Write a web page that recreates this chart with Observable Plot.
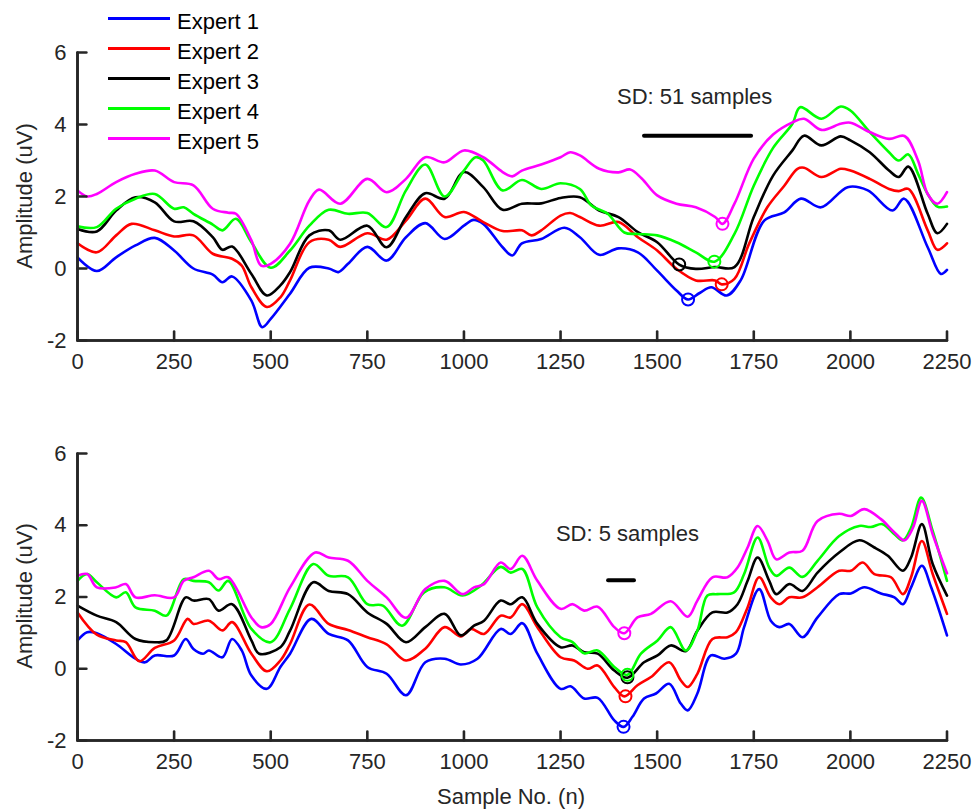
<!DOCTYPE html>
<html><head><meta charset="utf-8">
<script src="https://cdn.jsdelivr.net/npm/d3@7"></script>
<script src="https://cdn.jsdelivr.net/npm/@observablehq/plot@0.6"></script>
<style>
body{margin:0;background:#fff;font-family:"Liberation Sans",Arial,sans-serif;}
#wrap{position:relative;width:979px;height:809px;}
#legend{position:absolute;left:0;top:0;pointer-events:none}
.ylab{position:absolute;left:25px;font-size:22px;color:#262626;white-space:nowrap;transform:translate(-50%,-50%) rotate(-90deg);}
.xlab{position:absolute;left:511px;top:797px;font-size:22px;color:#262626;white-space:nowrap;transform:translate(-50%,-50%);}
</style></head><body>
<div id="wrap"><div id="top"></div><div id="bot"></div><svg id="legend" width="300" height="160"></svg></div>
<script>
const experts = ["Expert 1", "Expert 2", "Expert 3", "Expert 4", "Expert 5"];
const colors = ["#0000ff", "#ff0000", "#000000", "#00ff00", "#ff00ff"];
const xTicks = [0, 250, 500, 750, 1000, 1250, 1500, 1750, 2000, 2250];
const yTicks = [-2, 0, 2, 4, 6];
const xLabel = "Sample No. (n)";
const yLabel = "Amplitude (uV)";

// ---- Top panel (SD: 51 samples) ----
const top1 = [[0,0.31],[50,-0.07],[100,0.31],[150,0.64],[200,0.85],[250,0.5],[300,0],[350,-0.17],[375,-0.38],[400,-0.22],[450,-0.89],[478,-1.63],[500,-1.4],[550,-0.7],[600,0.02],[650,0],[675,-0.1],[700,0.13],[750,0.6],[800,0.22],[850,0.87],[900,1.26],[950,0.82],[1000,1.19],[1025,1.35],[1050,1.24],[1100,0.59],[1125,0.36],[1150,0.7],[1200,0.82],[1260,1.13],[1300,0.87],[1350,0.38],[1400,0.56],[1450,0.45],[1500,-0.06],[1550,-0.61],[1580,-0.86],[1610,-0.68],[1640,-0.52],[1680,-0.75],[1716,-0.33],[1777,1.33],[1829,1.56],[1872,1.94],[1924,1.7],[1993,2.26],[2045,2.17],[2109,1.61],[2139,1.94],[2200,0.59],[2234,-0.15],[2250,-0.04]];
const top2 = [[0,0.7],[50,0.45],[100,0.92],[140,1.24],[200,1.06],[250,0.89],[300,0.92],[350,0.41],[400,0.27],[425,0.08],[450,-0.52],[490,-1.07],[525,-0.8],[550,-0.33],[600,0.73],[650,0.8],[680,0.6],[750,0.98],[800,0.8],[850,1.33],[900,1.94],[950,1.43],[1000,1.57],[1050,1.29],[1100,1.04],[1150,1.06],[1175,0.92],[1200,1.06],[1250,1.47],[1275,1.54],[1300,1.43],[1350,1.19],[1400,1.29],[1450,0.87],[1500,0.5],[1550,-0.01],[1600,-0.33],[1650,-0.33],[1667,-0.44],[1700,-0.29],[1738,0.69],[1785,1.7],[1829,2.3],[1863,2.77],[1880,2.8],[1925,2.54],[1975,2.77],[2000,2.72],[2050,2.49],[2100,2.21],[2125,2.15],[2150,2.21],[2200,1.06],[2225,0.52],[2250,0.7]];
const top3 = [[0,1.1],[50,1.03],[100,1.61],[150,1.98],[200,1.84],[250,1.31],[300,1.31],[350,0.87],[375,0.52],[400,0.61],[450,-0.15],[490,-0.75],[525,-0.47],[550,-0.1],[600,0.92],[650,1.06],[680,0.8],[750,1.19],[800,0.59],[850,1.43],[900,2.09],[950,1.94],[1000,2.68],[1050,2.26],[1100,1.63],[1150,1.8],[1200,1.81],[1250,1.96],[1300,1.98],[1350,1.61],[1400,1.43],[1450,1.01],[1500,0.73],[1557,0.11],[1600,-0.01],[1650,0.04],[1700,0.04],[1750,1.43],[1800,2.58],[1850,3.28],[1880,3.69],[1925,3.42],[1975,3.67],[2000,3.56],[2050,3.23],[2100,2.72],[2125,2.54],[2150,2.83],[2200,1.52],[2225,0.98],[2250,1.24]];
const top4 = [[0,1.17],[50,1.15],[100,1.66],[150,1.94],[200,2.07],[250,1.66],[275,1.7],[300,1.52],[350,1.22],[375,1.06],[410,1.38],[450,0.73],[500,0.02],[550,0.5],[600,1.19],[650,1.63],[700,1.52],[750,1.54],[800,1.15],[850,2.17],[900,2.89],[950,2.0],[1000,2.72],[1030,3.09],[1050,3.0],[1100,2.17],[1150,2.46],[1200,2.21],[1250,2.37],[1300,2.21],[1330,1.75],[1372,1.52],[1415,1.0],[1450,0.96],[1500,0.92],[1550,0.73],[1600,0.45],[1648,0.19],[1700,0.96],[1750,2.3],[1800,3.35],[1850,4.02],[1870,4.48],[1925,4.16],[1975,4.5],[2000,4.39],[2050,3.79],[2100,3.23],[2125,3.0],[2150,3.17],[2175,2.63],[2200,2.07],[2225,1.72],[2250,1.72]];
const top5 = [[0,2.17],[25,2.0],[50,2.07],[100,2.4],[150,2.63],[200,2.72],[250,2.4],[300,2.31],[350,1.66],[390,1.55],[410,1.52],[450,0.78],[475,0.08],[500,0.13],[550,0.69],[600,1.89],[625,2.19],[680,1.8],[750,2.49],[800,2.12],[850,2.49],[900,3.09],[950,2.95],[1000,3.28],[1050,3.09],[1100,2.68],[1125,2.56],[1150,2.72],[1200,2.89],[1250,3.09],[1275,3.23],[1300,3.14],[1350,2.77],[1400,2.67],[1430,2.75],[1460,2.5],[1500,2.03],[1550,1.8],[1600,1.7],[1650,1.43],[1669,1.24],[1700,1.8],[1750,3.05],[1800,3.72],[1850,4.06],[1880,4.16],[1925,3.85],[1975,4.02],[2000,4.05],[2050,3.79],[2100,3.6],[2140,3.68],[2175,3.0],[2200,2.07],[2225,1.8],[2250,2.12]];
const topMarkers = [[1580,-0.86],[1667,-0.44],[1557,0.11],[1648,0.19],[1669,1.24]];
const topSD = {text: "SD: 51 samples", x: 1597, y: 4.76, x1: 1466, x2: 1743, barY: 3.69};

// ---- Bottom panel (SD: 5 samples) ----
const bot1 = [[0,0.79],[25,1.02],[50,0.99],[100,0.69],[150,0.28],[175,0.18],[200,0.37],[250,0.37],[280,0.83],[300,0.55],[325,0.42],[340,0.51],[375,0.32],[400,0.83],[425,0.51],[450,-0.19],[490,-0.56],[525,0.05],[550,0.42],[605,1.39],[650,0.97],[700,0.79],[750,0.05],[800,-0.14],[850,-0.74],[900,0.18],[950,0.28],[992,0.12],[1035,0.28],[1095,1.11],[1121,0.97],[1151,1.27],[1190,0.42],[1250,-0.56],[1276,-0.49],[1311,-0.83],[1346,-0.81],[1389,-1.44],[1413,-1.62],[1436,-1.34],[1466,-0.83],[1497,-0.69],[1531,-0.42],[1561,-0.97],[1579,-1.16],[1604,-0.69],[1639,0.37],[1674,0.28],[1704,0.42],[1725,1.16],[1764,2.22],[1794,1.34],[1816,1.16],[1842,1.25],[1876,0.88],[1915,1.43],[1971,2.08],[2001,2.1],[2036,2.27],[2079,2.1],[2114,1.99],[2136,1.8],[2157,2.27],[2185,2.87],[2209,2.27],[2250,0.93]];
const bot2 = [[0,1.57],[50,0.95],[100,0.79],[125,0.74],[160,0.21],[200,0.58],[250,0.79],[285,1.39],[300,1.25],[340,1.34],[375,1.07],[400,1.3],[450,0.42],[490,-0.07],[525,0.23],[550,0.69],[600,1.79],[650,1.25],[700,1.08],[750,0.88],[800,0.68],[850,0.23],[900,0.56],[950,1.16],[992,0.9],[1018,1.11],[1052,0.97],[1095,1.48],[1121,1.43],[1151,1.8],[1190,1.16],[1250,0.32],[1285,0.23],[1320,0],[1346,0.09],[1389,-0.51],[1415,-0.77],[1449,-0.46],[1484,-0.23],[1531,0.18],[1561,-0.32],[1579,-0.51],[1604,-0.14],[1643,0.83],[1682,0.88],[1704,1.02],[1734,1.71],[1764,2.55],[1794,1.99],[1816,1.8],[1842,1.99],[1876,1.99],[1915,2.27],[1971,2.73],[2001,2.73],[2032,2.96],[2062,2.64],[2105,2.55],[2136,2.08],[2157,2.55],[2185,3.56],[2213,2.64],[2250,1.53]];
const bot3 = [[0,1.76],[50,1.48],[100,1.3],[150,0.83],[200,0.74],[230,0.79],[280,1.99],[300,1.9],[340,1.94],[365,1.62],[400,1.8],[450,0.79],[470,0.42],[525,0.6],[550,1.06],[610,2.41],[650,2.17],[700,2.08],[750,1.57],[800,1.25],[850,0.74],[900,1.16],[950,1.53],[992,0.93],[1026,1.2],[1052,1.34],[1095,1.9],[1121,1.8],[1151,1.99],[1190,1.25],[1250,0.6],[1281,0.65],[1311,0.46],[1346,0.42],[1389,-0.05],[1423,-0.25],[1466,0.18],[1501,0.37],[1535,0.65],[1574,0.49],[1604,1.06],[1643,1.57],[1682,1.57],[1708,1.8],[1734,2.45],[1760,3.1],[1790,2.45],[1808,2.08],[1842,2.36],[1876,2.17],[1915,2.68],[1971,3.24],[2023,3.58],[2062,3.38],[2097,3.15],[2136,2.73],[2157,3.1],[2185,4.03],[2213,2.92],[2250,2.04]];
const bot4 = [[0,2.45],[25,2.64],[50,2.41],[100,1.99],[125,2.13],[150,1.71],[200,1.62],[230,1.48],[275,2.5],[300,2.45],[340,2.41],[365,2.18],[390,2.45],[450,1.11],[500,0.74],[550,1.67],[610,2.92],[650,2.59],[700,2.55],[750,1.8],[790,1.76],[840,1.2],[897,2.13],[949,2.27],[996,2.04],[1043,2.31],[1095,2.84],[1121,2.68],[1151,2.78],[1190,1.71],[1250,0.88],[1281,0.74],[1311,0.43],[1346,0.51],[1389,0.05],[1423,-0.17],[1458,0.42],[1501,0.79],[1535,1.16],[1574,0.51],[1604,1.06],[1630,2.04],[1656,2.08],[1699,2.13],[1725,2.64],[1760,3.66],[1790,2.82],[1808,2.59],[1842,2.82],[1876,2.56],[1915,3.01],[1971,3.7],[2023,3.98],[2053,3.95],[2083,4.03],[2114,3.75],[2136,3.58],[2157,3.93],[2183,4.77],[2213,3.84],[2250,2.45]];
const bot5 = [[0,2.59],[25,2.64],[50,2.27],[100,2.27],[125,2.36],[150,1.99],[200,2.05],[250,1.99],[275,2.45],[300,2.55],[340,2.73],[365,2.5],[390,2.55],[450,1.43],[475,1.16],[500,1.25],[550,2.27],[615,3.24],[650,3.1],[700,3.01],[750,2.45],[800,1.99],[850,1.42],[900,2.22],[950,2.45],[996,2.08],[1026,2.27],[1052,2.36],[1095,2.96],[1121,2.78],[1151,3.15],[1190,2.45],[1250,1.67],[1281,1.8],[1311,1.62],[1346,1.73],[1389,1.16],[1415,0.99],[1449,1.43],[1484,1.53],[1535,1.88],[1579,1.45],[1604,1.9],[1643,2.55],[1682,2.55],[1708,2.82],[1734,3.38],[1760,3.98],[1786,3.56],[1808,3.05],[1842,3.24],[1876,3.29],[1915,4.12],[1971,4.32],[2001,4.26],[2036,4.45],[2079,4.17],[2114,3.8],[2140,3.58],[2162,3.93],[2185,4.68],[2213,3.75],[2250,2.66]];
const botMarkers = [[1413,-1.62],[1418,-0.77],[1423,-0.24],[1423,-0.17],[1415,0.99]];
const botSD = {text: "SD: 5 samples", x: 1423, y: 3.75, x1: 1373, x2: 1440, barY: 2.47};

const axisColor = "#262626";
const FONT = "'Liberation Sans', Arial, Helvetica, sans-serif";
const fmt = d => String(d);
const X_DOMAIN = [0, 2250], Y_DOMAIN = [-2, 6];

function panel(series, markers, sd, cfg) {
  const [x0, x1] = X_DOMAIN, [y0, y1] = Y_DOMAIN;
  const tickLenY = 0.25, tickLenX = 23;
  const spine = [{x: x0, y: y1}, {x: x0, y: y0}, {x: x1, y: y0}];
  const xTickPts = xTicks.flatMap(v => [{x: v, y: y0, k: "x" + v}, {x: v, y: y0 + tickLenY, k: "x" + v}]);
  const yTickPts = yTicks.flatMap(v => [{x: x0, y: v, k: "y" + v}, {x: x0 + tickLenX, y: v, k: "y" + v}]);
  const sdPts = [{x: sd.x1, y: sd.barY}, {x: sd.x2, y: sd.barY}];
  const lineMarks = series.map((s, i) => Plot.line(s, {x: d => d[0], y: d => d[1], stroke: colors[i], strokeWidth: 2.6, curve: "catmull-rom"}));
  const dotMarks = markers.map((m, i) => Plot.dot([m], {x: d => d[0], y: d => d[1], r: 6, stroke: colors[i], strokeWidth: 2, fill: "none"}));
  return Plot.plot({
    width: 979, height: cfg.height,
    marginLeft: 77, marginRight: 32.5, marginTop: cfg.mt, marginBottom: cfg.mb,
    x: {domain: X_DOMAIN}, y: {domain: Y_DOMAIN},
    style: {fontFamily: FONT, fontSize: "22px", color: axisColor, background: "transparent"},
    marks: [
      Plot.axisX(xTicks, {tickSize: 0, tickPadding: 13, fontSize: 22, fill: axisColor, label: null, tickFormat: fmt}),
      Plot.axisY(yTicks, {tickSize: 0, tickPadding: 11, fontSize: 22, fill: axisColor, label: null, tickFormat: fmt}),
      ...lineMarks,
      ...dotMarks,
      Plot.line(sdPts, {x: "x", y: "y", stroke: "#000", strokeWidth: 4}),
      Plot.text([sd], {x: "x", y: "y", text: "text", fontSize: 22, fill: axisColor}),
      Plot.ruleY([y0], {stroke: "#262626", strokeWidth: 2.6}),
      Plot.ruleX([x0], {stroke: "#262626", strokeWidth: 2.6}),
      Plot.line(spine, {x: "x", y: "y", stroke: "#262626", strokeWidth: 2.6}),
      Plot.line(xTickPts, {x: "x", y: "y", z: "k", stroke: "#262626", strokeWidth: 2.6}),
      Plot.line(yTickPts, {x: "x", y: "y", z: "k", stroke: "#262626", strokeWidth: 2.6})
    ]
  });
}

document.getElementById("top").append(panel([top1, top2, top3, top4, top5], topMarkers, topSD, {height: 400, mt: 52, mb: 60}));
document.getElementById("bot").append(panel([bot1, bot2, bot3, bot4, bot5], botMarkers, botSD, {height: 409, mt: 53, mb: 69}));

// Axis titles (HTML, placed beside each panel)
const wrap = document.getElementById("wrap");
[196, 596].forEach(cy => {
  const d = document.createElement("div");
  d.className = "ylab"; d.style.top = cy + "px"; d.textContent = yLabel;
  wrap.append(d);
});
const xl = document.createElement("div");
xl.className = "xlab"; xl.textContent = xLabel;
wrap.append(xl);

// Legend
const leg = d3.select("#legend");
experts.forEach((name, i) => {
  const y = 18.5 + i * 30;
  leg.append("line").attr("x1", 108).attr("x2", 170).attr("y1", y).attr("y2", y).attr("stroke", colors[i]).attr("stroke-width", 3);
  leg.append("text").attr("x", 177).attr("y", y + 10.5).attr("font-family", FONT).attr("font-size", 22).attr("fill", "#000").text(name);
});
</script>
</body></html>
